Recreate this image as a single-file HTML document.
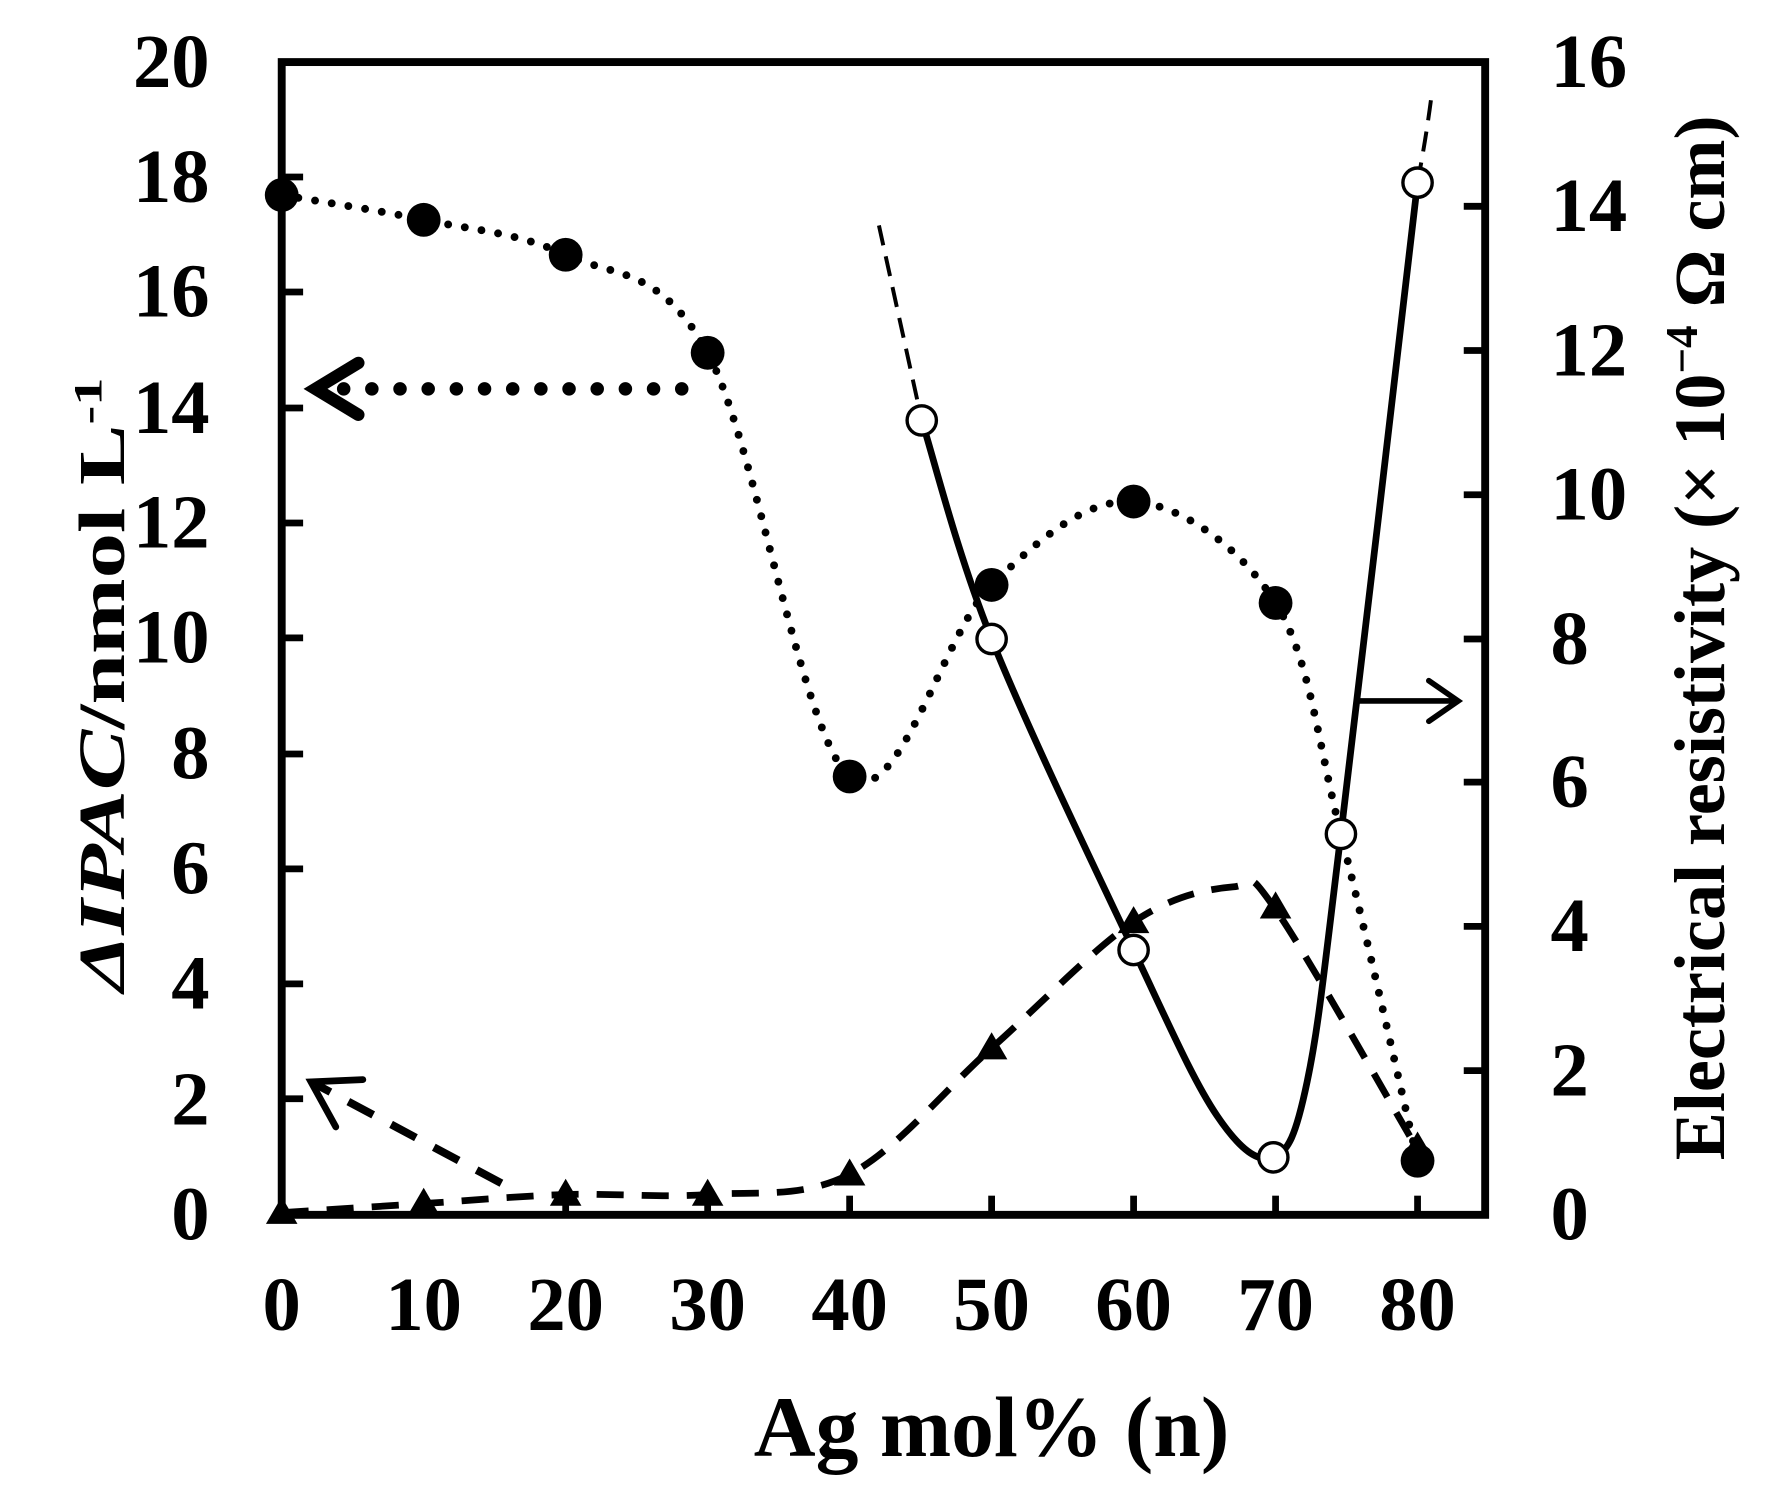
<!DOCTYPE html>
<html><head><meta charset="utf-8"><style>
html,body{margin:0;padding:0;background:#fff;}
svg{display:block;}
text{font-family:"Liberation Serif","Times New Roman",serif;font-weight:bold;fill:#000;}
</style></head><body>
<svg id="s" width="1768" height="1491" viewBox="0 0 1569 1323" xmlns="http://www.w3.org/2000/svg">
<rect x="0" y="0" width="1569" height="1323" fill="#fff"/>
<rect x="250" y="55" width="1068" height="1023" fill="none" stroke="#000" stroke-width="7"/>
<g stroke="#000" stroke-width="6">
<line x1="250" y1="157" x2="269" y2="157"/><line x1="250" y1="259" x2="269" y2="259"/>
<line x1="250" y1="362" x2="269" y2="362"/><line x1="250" y1="464" x2="269" y2="464"/>
<line x1="250" y1="566" x2="269" y2="566"/><line x1="250" y1="669" x2="269" y2="669"/>
<line x1="250" y1="771" x2="269" y2="771"/><line x1="250" y1="873" x2="269" y2="873"/>
<line x1="250" y1="975" x2="269" y2="975"/>
<line x1="1318" y1="183" x2="1299" y2="183"/><line x1="1318" y1="311" x2="1299" y2="311"/>
<line x1="1318" y1="439" x2="1299" y2="439"/><line x1="1318" y1="567" x2="1299" y2="567"/>
<line x1="1318" y1="694" x2="1299" y2="694"/><line x1="1318" y1="822" x2="1299" y2="822"/>
<line x1="1318" y1="950" x2="1299" y2="950"/>
<line x1="376" y1="1078" x2="376" y2="1061"/><line x1="502" y1="1078" x2="502" y2="1061"/>
<line x1="628" y1="1078" x2="628" y2="1061"/><line x1="754" y1="1078" x2="754" y2="1061"/>
<line x1="880" y1="1078" x2="880" y2="1061"/><line x1="1006" y1="1078" x2="1006" y2="1061"/>
<line x1="1132" y1="1078" x2="1132" y2="1061"/><line x1="1258" y1="1078" x2="1258" y2="1061"/>
</g>
<g font-size="68" text-anchor="end">
<text x="186" y="1100">0</text><text x="186" y="998">2</text><text x="186" y="895">4</text>
<text x="186" y="793">6</text><text x="186" y="691">8</text><text x="186" y="588">10</text>
<text x="186" y="486">12</text><text x="186" y="384">14</text><text x="186" y="281">16</text>
<text x="186" y="179">18</text><text x="186" y="77">20</text>
</g>
<g font-size="68" text-anchor="start">
<text x="1376" y="1100">0</text><text x="1376" y="972">2</text><text x="1376" y="844">4</text>
<text x="1376" y="716">6</text><text x="1376" y="589">8</text><text x="1376" y="461">10</text>
<text x="1376" y="333">12</text><text x="1376" y="205">14</text><text x="1376" y="77">16</text>
</g>
<g font-size="68" text-anchor="middle">
<text x="250" y="1180">0</text><text x="376" y="1180">10</text><text x="502" y="1180">20</text>
<text x="628" y="1180">30</text><text x="754" y="1180">40</text><text x="880" y="1180">50</text>
<text x="1006" y="1180">60</text><text x="1132" y="1180">70</text><text x="1258" y="1180">80</text>
</g>
<text x="880" y="1292" font-size="76" text-anchor="middle">Ag mol% (n)</text>
<text transform="translate(110,880) rotate(-90)" font-size="58" textLength="545" lengthAdjust="spacingAndGlyphs"><tspan font-style="italic">ΔIPAC</tspan>/nmol L<tspan font-size="36" dy="-20">-1</tspan></text>
<text transform="translate(1530,566) rotate(-90)" font-size="64" text-anchor="middle">Electrical resistivity (× 10<tspan font-size="40" dy="-24">−4</tspan><tspan dy="24"> Ω cm)</tspan></text>

<path id="dotc" fill="none" stroke="#000" stroke-width="7" stroke-linecap="round" stroke-dasharray="0 15"/>
<path id="dashc" fill="none" stroke="#000" stroke-width="6" stroke-dasharray="24 16"/>
<path id="solc" fill="none" stroke="#000" stroke-width="6"/>
<path d="M780,200 L818,373" fill="none" stroke="#000" stroke-width="3.5" stroke-dasharray="18 10"/>
<path d="M1258,162 Q1266,120 1271,80" fill="none" stroke="#000" stroke-width="3.5" stroke-dasharray="18 10"/>

<path d="M605,345 L300,345" fill="none" stroke="#000" stroke-width="12" stroke-linecap="round" stroke-dasharray="0 25"/>
<path d="M318,322 L280,345 L318,368" fill="none" stroke="#000" stroke-width="11" stroke-linecap="round"/>
<path d="M445,1050 L280,962" fill="none" stroke="#000" stroke-width="7" stroke-dasharray="25 18"/>
<path d="M322,958 L276,960 L298,1000" fill="none" stroke="#000" stroke-width="6" stroke-linecap="round"/>
<path d="M1205,622 L1292,622 M1268,604 L1294,622 L1268,640" fill="none" stroke="#000" stroke-width="5" stroke-linecap="round"/>

<g fill="#000">
<circle cx="250" cy="173" r="15"/><circle cx="376" cy="195" r="15"/><circle cx="502" cy="226" r="15"/>
<circle cx="628" cy="313" r="15"/><circle cx="754" cy="689" r="15"/><circle cx="880" cy="519" r="15"/>
<circle cx="1006" cy="445" r="15"/><circle cx="1132" cy="535" r="15"/><circle cx="1258" cy="1030" r="15"/>
</g>
<g fill="#000">
<path d="M250,1062 l14,24 h-28z"/><path d="M376,1054 l14,24 h-28z"/><path d="M502,1046 l14,24 h-28z"/>
<path d="M628,1046 l14,24 h-28z"/><path d="M754,1028 l14,24 h-28z"/><path d="M880,916 l14,24 h-28z"/>
<path d="M1006,804 l14,24 h-28z"/><path d="M1132,791 l14,24 h-28z"/><path d="M1258,1004 l14,24 h-28z"/>
</g>
<g fill="#fff" stroke="#000" stroke-width="3">
<circle cx="818" cy="373" r="13"/><circle cx="880" cy="567" r="13"/><circle cx="1006" cy="843" r="13"/>
<circle cx="1130" cy="1027" r="13"/><circle cx="1190" cy="740" r="13"/><circle cx="1258" cy="162" r="13"/>
</g>
</svg>
<script>
function cr(p){var d="M"+p[0][0]+","+p[0][1];for(var i=0;i<p.length-1;i++){var a=p[i-1]||p[i],b=p[i],c=p[i+1],e=p[i+2]||c;
var c1x=b[0]+(c[0]-a[0])/6,c1y=b[1]+(c[1]-a[1])/6,c2x=c[0]-(e[0]-b[0])/6,c2y=c[1]-(e[1]-b[1])/6;
d+=" C"+c1x.toFixed(1)+","+c1y.toFixed(1)+" "+c2x.toFixed(1)+","+c2y.toFixed(1)+" "+c[0]+","+c[1];}return d;}
document.getElementById("dotc").setAttribute("d",cr([[250,173],[376,195],[502,226],[628,313],[754,689],[880,519],[1006,445],[1132,535],[1190,740],[1258,1030]]));
document.getElementById("dashc").setAttribute("d",cr([[250,1076],[376,1068],[502,1060],[628,1060],[754,1042],[880,930],[1006,818],[1094,787],[1132,807],[1258,1020]]));
document.getElementById("solc").setAttribute("d",cr([[818,373],[880,567],[1006,843],[1080,990],[1130,1027],[1160,960],[1190,740],[1258,162]]));
</script>
</body></html>
